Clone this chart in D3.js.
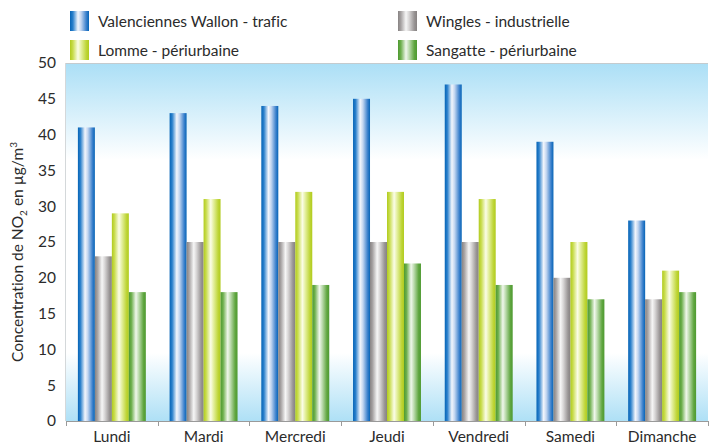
<!DOCTYPE html>
<html>
<head>
<meta charset="utf-8">
<script src="https://cdn.jsdelivr.net/npm/d3@7"></script>
<style>
  html, body { margin: 0; padding: 0; background: #fff; }
  svg { display: block; }
  text { font-family: Lato, "Open Sans", sans-serif; fill: #2b2b2b; font-variant-ligatures: none; }
</style>
</head>
<body>
<svg id="chart" width="720" height="444"></svg>
<script>
// Mean NO2 concentration by day of week, four monitoring stations
const days = ["Lundi", "Mardi", "Mercredi", "Jeudi", "Vendredi", "Samedi", "Dimanche"];
const stations = ["Valenciennes Wallon - trafic", "Wingles - industrielle", "Lomme - périurbaine", "Sangatte - périurbaine"];
const valenciennes = [41, 43, 44, 45, 47, 39, 28];
const wingles = [23, 25, 25, 25, 25, 20, 17];
const lomme = [29, 31, 32, 32, 31, 25, 21];
const sangatte = [18, 18, 19, 22, 19, 17, 18];
const yTicks = [0, 5, 10, 15, 20, 25, 30, 35, 40, 45, 50];

const seriesValues = [valenciennes, wingles, lomme, sangatte];

// bar shading: dark edges, bright centre
const palettes = [
  ["#0664b6", "#2a80cc", "#f3f6fc", "#c3d6f0", "#3a80cc", "#0664b6"],
  ["#878282", "#a6a2a2", "#f6f6f6", "#d8d6d6", "#989494", "#878282"],
  ["#b1cb1e", "#c8dc4c", "#fbfde8", "#e5f0a2", "#bed537", "#b1cb1e"],
  ["#4e9a31", "#6daf4c", "#f0f7ec", "#bedcb0", "#60a640", "#4e9a31"]
];

const svg = d3.select("#chart");
const W = 720, H = 444;
const margin = { top: 63, right: 12, bottom: 23, left: 66 };
const plotW = W - margin.left - margin.right;
const plotH = H - margin.top - margin.bottom;

const defs = svg.append("defs");

const bg = defs.append("linearGradient")
  .attr("id", "bgGrad").attr("x1", 0).attr("y1", 0).attr("x2", 0).attr("y2", 1);
[[0, "#abdff6"], [0.27, "#ffffff"], [0.81, "#ffffff"], [1, "#aee0f6"]].forEach(([o, c]) =>
  bg.append("stop").attr("offset", o).attr("stop-color", c));

palettes.forEach((p, i) => {
  const g = defs.append("linearGradient")
    .attr("id", "barGrad" + i).attr("x1", 0).attr("y1", 0).attr("x2", 1).attr("y2", 0);
  const offs = [0, 0.15, 0.42, 0.58, 0.86, 1];
  p.forEach((c, k) => g.append("stop").attr("offset", offs[k]).attr("stop-color", c));
});

const x0 = d3.scaleBand().domain(days).range([0, plotW]).paddingInner(0).paddingOuter(0);
const x1 = d3.scaleBand().domain(d3.range(stations.length))
  .range([0, x0.bandwidth()]).paddingInner(0).paddingOuter(0.7);
const y = d3.scaleLinear().domain([0, 50]).range([plotH, 0]);

const g = svg.append("g").attr("transform", `translate(${margin.left},${margin.top})`);

// plot background
g.append("rect").attr("x", 0).attr("y", 0).attr("width", plotW).attr("height", plotH)
  .attr("fill", "url(#bgGrad)");
g.append("line").attr("x1", 0).attr("x2", plotW).attr("y1", 0.5).attr("y2", 0.5)
  .attr("stroke", "#c4cbce").attr("stroke-width", 1);
g.append("line").attr("x1", -0.5).attr("x2", -0.5).attr("y1", 0).attr("y2", plotH)
  .attr("stroke", "#d4d8da").attr("stroke-width", 1);

// bars
const groups = g.selectAll("g.day").data(days).join("g")
  .attr("class", "day")
  .attr("transform", d => `translate(${x0(d)},0)`);

groups.selectAll("rect").data((d, i) => seriesValues.map((s, k) => ({ k, v: s[i] })))
  .join("rect")
  .attr("x", d => x1(d.k))
  .attr("width", x1.bandwidth())
  .attr("y", d => y(d.v))
  .attr("height", d => plotH - y(d.v))
  .attr("fill", d => `url(#barGrad${d.k})`);

// y axis
const yAxis = g.append("g").call(d3.axisLeft(y).tickValues(yTicks).tickSize(0).tickPadding(10));
yAxis.select(".domain").remove();
yAxis.selectAll("text").attr("font-size", 15.5).style("fill", "#2b2b2b")
  .attr("font-family", "Lato, 'Open Sans', sans-serif");

// x axis
const xAxis = g.append("g").attr("transform", `translate(0,${plotH})`)
  .call(d3.axisBottom(x0).tickSize(0).tickPadding(10));
xAxis.select(".domain").attr("stroke", "#9a9a9a");
xAxis.selectAll("text").attr("font-size", 15.5).style("fill", "#2b2b2b")
  .attr("font-family", "Lato, 'Open Sans', sans-serif");
// separators between days
g.append("g").selectAll("line").data(d3.range(days.length + 1)).join("line")
  .attr("x1", i => Math.round(i * x0.step()) + 0.5)
  .attr("x2", i => Math.round(i * x0.step()) + 0.5)
  .attr("y1", plotH).attr("y2", plotH + 5)
  .attr("stroke", "#9a9a9a");

// y axis title
const yTitle = svg.append("text")
  .attr("transform", `translate(23,${margin.top + plotH / 2 + 10}) rotate(-90)`)
  .attr("text-anchor", "middle").attr("font-size", 15.5);
yTitle.append("tspan").text("Concentration de NO");
yTitle.append("tspan").attr("font-size", 10).attr("dy", 4).text("2");
yTitle.append("tspan").attr("dy", -4).text(" en µg/m");
yTitle.append("tspan").attr("font-size", 10).attr("dy", -6).text("3");

// legend: two columns, two rows
const legendX = [70, 398];
const legendY = [11, 40];
const legend = svg.append("g");
stations.forEach((name, k) => {
  const col = k % 2, row = Math.floor(k / 2);
  const item = legend.append("g").attr("transform", `translate(${legendX[col]},${legendY[row]})`);
  item.append("rect").attr("width", 19).attr("height", 20).attr("fill", `url(#barGrad${k})`);
  item.append("text").attr("x", 28).attr("y", 15.5).attr("font-size", 15.5).text(name);
});
</script>
</body>
</html>
